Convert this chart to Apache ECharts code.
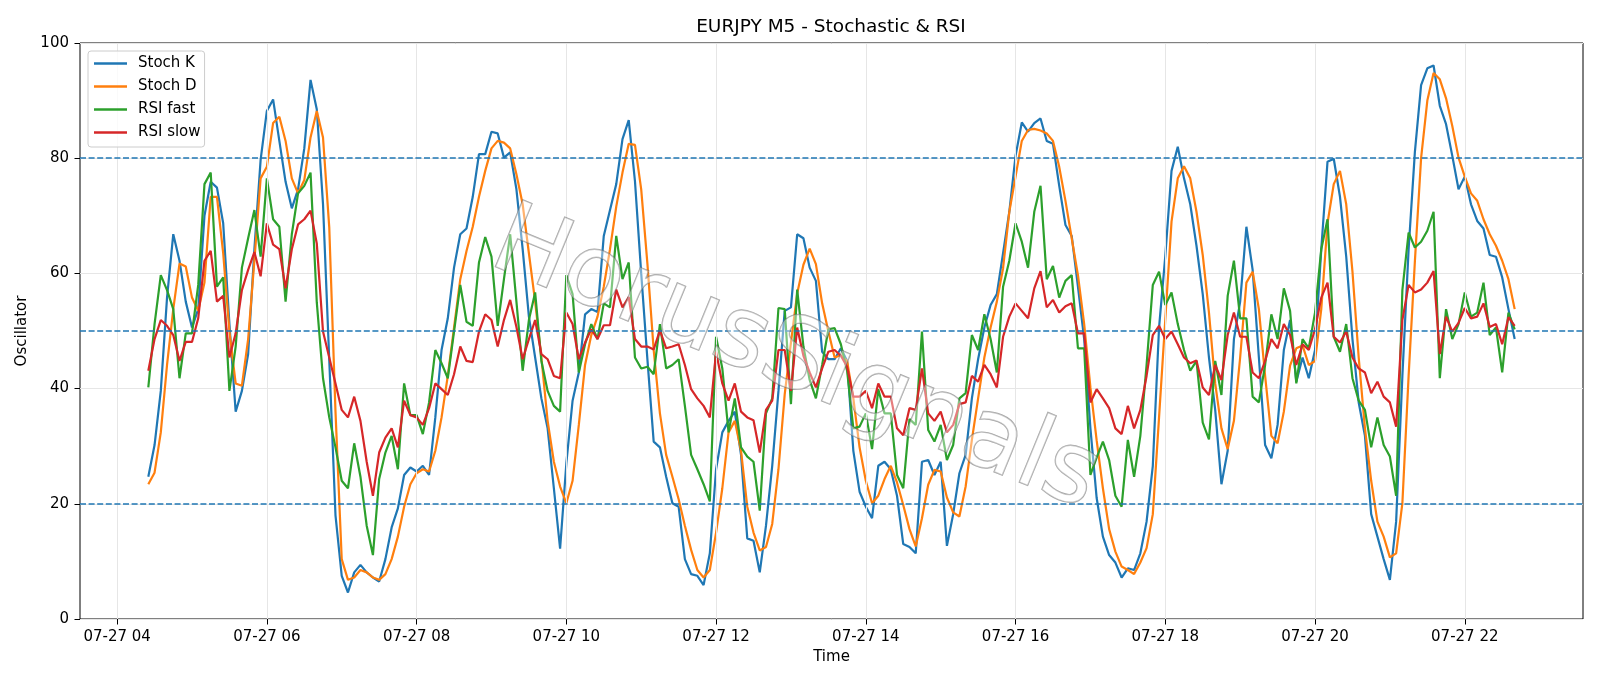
<!DOCTYPE html>
<html lang="en">
<head>
<meta charset="UTF-8">
<title>EURJPY M5 - Stochastic & RSI</title>
<style>
  html, body { margin: 0; padding: 0; background: #fff; }
  #main { width: 1600px; height: 686px; }
</style>
</head>
<body>
<div id="main"></div>
<script src="https://cdn.jsdelivr.net/npm/echarts@6/dist/echarts.min.js"></script>
<script>
// M5 bars on 07-27, first bar 04:25, last bar 22:40 (hours of day on the x axis)
var startHour = 4 + 25 / 60;
var stepHour = 5 / 60;
var tickHours = [4, 6, 8, 10, 12, 14, 16, 18, 20, 22];
var levels = [20, 50, 80];

var stochK = [
  24.7, 30.2, 39.6, 55.8, 66.8, 62.2, 55.1, 50.6, 53.8, 70.0,
  75.9, 74.9, 68.7, 51.2, 36.0, 39.6, 46.0, 64.2, 79.7, 88.2,
  90.2, 83.0, 75.9, 71.3, 74.6, 81.7, 93.6, 88.5, 72.0, 45.0,
  18.0, 7.5, 4.6, 8.1, 9.4, 8.1, 7.2, 6.5, 10.4, 15.9,
  19.2, 25.0, 26.3, 25.6, 26.6, 25.0, 35.0, 46.7, 52.2, 61.0,
  66.8, 67.8, 73.3, 80.7, 80.7, 84.6, 84.3, 80.1, 81.0, 74.6,
  64.2, 52.5, 45.4, 38.3, 33.1, 22.7, 12.2, 27.0, 37.9, 42.8,
  52.9, 53.8, 53.3, 66.5, 71.0, 75.5, 83.3, 86.6, 76.0, 60.0,
  45.0, 30.8, 29.8, 24.7, 20.1, 19.5, 10.4, 7.8, 7.5, 5.9,
  11.4, 26.0, 32.4, 34.4, 36.0, 28.5, 14.0, 13.6, 8.1, 16.2,
  26.6, 39.6, 53.5, 54.1, 66.8, 66.1, 61.0, 58.7, 46.4, 45.1,
  45.1, 47.0, 44.8, 29.2, 22.1, 19.5, 17.5, 26.6, 27.3, 26.0,
  21.4, 13.0, 12.5, 11.4, 27.3, 27.6, 25.0, 27.3, 12.7, 18.2,
  25.3, 28.5, 38.3, 45.1, 50.6, 54.5, 56.4, 63.5, 70.7, 80.4,
  86.2, 84.6, 86.1, 86.9, 83.0, 82.5, 75.2, 68.4, 66.5, 57.7,
  48.6, 33.1, 21.0, 14.3, 11.1, 9.8, 7.2, 8.8, 8.5, 11.4,
  16.9, 26.6, 50.6, 63.0, 77.8, 82.0, 76.5, 72.0, 64.8, 56.4,
  45.4, 36.3, 23.4, 29.2, 48.6, 55.1, 68.1, 60.6, 45.4, 30.2,
  27.9, 33.7, 46.7, 51.9, 41.2, 45.4, 41.8, 46.7, 64.2, 79.4,
  79.9, 73.3, 62.9, 48.6, 37.6, 31.8, 18.2, 14.3, 10.4, 6.8,
  16.9, 42.2, 64.2, 81.0, 92.7, 95.6, 96.1, 89.1, 85.9, 80.4,
  74.6, 76.8, 72.0, 69.1, 67.8, 63.2, 62.9, 59.3, 53.8, 48.6
];

var stochD = [
  23.4, 25.4, 32.4, 44.1, 53.8, 61.7, 61.2, 55.8, 53.5, 58.4,
  73.3, 73.3, 63.5, 49.9, 40.9, 40.5, 48.6, 62.2, 76.5, 78.5,
  86.1, 87.2, 83.0, 76.5, 73.9, 76.2, 83.6, 88.2, 83.6, 68.0,
  36.0, 10.4, 6.8, 7.2, 8.5, 8.1, 7.2, 6.8, 7.8, 10.4,
  14.3, 19.5, 23.4, 25.3, 26.0, 25.6, 29.2, 35.0, 42.2, 50.6,
  59.0, 63.9, 68.1, 73.3, 77.8, 81.7, 83.0, 82.7, 81.7, 77.2,
  72.0, 63.5, 55.1, 45.4, 34.4, 27.3, 23.0, 20.1, 24.0, 33.7,
  44.1, 49.3, 52.5, 57.7, 64.2, 71.6, 77.5, 82.5, 82.3, 74.6,
  61.6, 46.7, 35.7, 28.5, 24.7, 20.8, 16.2, 12.0, 8.5, 7.2,
  8.5, 15.0, 22.7, 32.4, 34.4, 29.2, 19.5, 15.0, 11.9, 12.5,
  16.5, 26.0, 39.0, 48.0, 56.5, 61.5, 64.3, 61.6, 54.8, 49.9,
  45.4, 45.8, 44.8, 38.3, 29.8, 24.0, 20.1, 21.4, 24.3, 26.6,
  23.7, 19.8, 15.6, 12.6, 17.5, 23.3, 25.9, 25.6, 21.1, 18.5,
  17.8, 23.0, 31.1, 38.3, 45.4, 50.6, 55.1, 60.9, 70.7, 76.8,
  83.0, 84.9, 85.1, 84.8, 84.3, 83.0, 78.5, 72.6, 66.1, 59.7,
  51.2, 40.2, 31.0, 22.7, 15.6, 11.7, 9.1, 8.5, 7.8, 9.8,
  12.3, 18.2, 35.0, 52.0, 69.0, 76.5, 78.6, 76.5, 70.7, 63.2,
  53.2, 40.9, 33.1, 29.5, 34.4, 45.4, 58.4, 60.3, 53.8, 42.2,
  31.8, 30.5, 36.0, 44.0, 47.0, 47.5, 44.1, 44.8, 53.8, 68.7,
  75.5, 77.8, 72.0, 60.3, 45.4, 33.1, 24.0, 16.9, 14.3, 10.7,
  11.4, 20.1, 42.2, 62.0, 80.0, 90.0, 94.8, 93.7, 90.4, 85.6,
  80.1, 76.8, 73.9, 72.6, 69.4, 66.8, 64.8, 62.2, 59.0, 53.8
];

var rsiFast = [
  40.2, 51.2, 59.7, 57.1, 53.8, 41.8, 49.6, 49.6, 58.0, 75.5,
  77.5, 57.7, 59.3, 39.6, 47.3, 61.0, 66.1, 71.0, 62.9, 76.5,
  69.4, 68.1, 55.1, 66.8, 73.9, 75.2, 77.5, 55.0, 41.8, 35.0,
  29.8, 24.0, 22.7, 30.5, 24.7, 16.2, 11.1, 24.3, 28.9, 31.8,
  26.0, 40.9, 35.4, 35.4, 32.1, 37.6, 46.7, 44.4, 41.8, 49.9,
  58.0, 51.6, 50.9, 61.9, 66.3, 62.9, 50.9, 59.0, 66.8, 55.1,
  43.1, 51.9, 56.7, 44.8, 39.6, 37.0, 36.0, 59.7, 56.4, 42.8,
  47.7, 51.2, 48.6, 54.8, 54.1, 66.5, 59.0, 61.9, 45.4, 43.5,
  43.8, 42.5, 51.2, 43.5, 44.1, 45.1, 37.0, 28.5, 26.0, 23.4,
  20.4, 49.0, 43.5, 32.4, 38.3, 29.8, 28.2, 27.3, 18.8, 35.7,
  38.3, 54.0, 53.8, 37.3, 57.2, 47.3, 41.5, 38.3, 44.1, 50.3,
  50.5, 47.7, 43.1, 33.1, 33.4, 35.7, 29.5, 39.9, 35.7, 35.7,
  25.0, 22.7, 34.7, 33.7, 49.9, 32.8, 30.8, 33.7, 27.6, 30.2,
  38.3, 39.2, 49.3, 46.7, 52.9, 48.6, 42.8, 57.7, 62.2, 68.7,
  65.5, 61.0, 70.7, 75.2, 59.0, 61.3, 55.8, 58.7, 59.7, 47.0,
  47.0, 25.0, 28.0, 30.8, 27.6, 21.4, 19.5, 31.1, 24.7, 31.8,
  44.1, 58.0, 60.3, 54.5, 56.7, 51.2, 46.7, 43.1, 44.8, 34.1,
  31.2, 44.8, 38.9, 56.1, 62.2, 52.2, 52.2, 38.6, 37.6, 44.1,
  52.9, 48.6, 57.4, 53.5, 40.9, 48.6, 47.0, 53.2, 64.2, 69.4,
  49.0, 46.4, 51.2, 41.8, 37.9, 36.3, 29.8, 35.0, 30.2, 28.2,
  21.4, 57.1, 67.1, 64.5, 65.5, 67.4, 70.7, 41.8, 53.8, 48.6,
  51.2, 56.7, 52.5, 53.2, 58.4, 49.3, 50.6, 42.8, 53.2, 50.3
];

var rsiSlow = [
  43.1, 48.6, 51.9, 50.9, 49.3, 44.8, 48.1, 48.1, 52.2, 62.2,
  63.9, 55.1, 56.1, 45.4, 49.6, 57.1, 60.6, 63.7, 59.5, 68.7,
  65.0, 64.2, 57.4, 64.2, 68.5, 69.4, 70.9, 65.2, 49.9, 45.4,
  40.9, 36.3, 35.0, 38.6, 34.4, 27.3, 21.4, 28.9, 31.5, 33.1,
  29.8, 37.9, 35.4, 35.0, 33.7, 36.6, 40.9, 39.9, 38.9, 42.5,
  47.3, 44.8, 44.6, 49.9, 52.9, 51.9, 47.3, 51.9, 55.4, 50.7,
  45.1, 48.6, 51.9, 46.0, 45.1, 42.2, 41.8, 53.2, 51.2, 45.1,
  48.0, 50.3, 48.6, 51.0, 51.0, 57.2, 54.1, 55.9, 48.6, 47.3,
  47.3, 46.8, 50.1, 47.0, 47.3, 47.7, 44.1, 39.9, 38.3, 37.0,
  35.0, 46.4, 40.9, 37.9, 40.9, 36.0, 35.0, 34.5, 28.9, 36.3,
  37.9, 46.7, 46.7, 39.6, 50.6, 45.7, 42.8, 40.2, 43.5, 46.4,
  46.7, 45.7, 43.8, 38.6, 38.6, 39.6, 36.6, 40.9, 38.6, 38.6,
  33.1, 31.9, 36.6, 36.3, 43.5, 35.7, 34.4, 36.0, 32.4, 33.7,
  37.3, 37.6, 42.2, 41.2, 44.1, 42.5, 40.2, 49.0, 52.5, 54.8,
  53.5, 52.2, 57.4, 60.4, 54.1, 55.4, 53.2, 54.3, 54.8, 49.6,
  49.6, 37.6, 39.9, 38.3, 36.6, 33.1, 32.1, 37.0, 33.1, 36.3,
  42.2, 49.3, 50.9, 48.6, 49.9, 47.7, 45.4, 44.4, 44.9, 40.2,
  38.9, 44.1, 41.5, 49.3, 53.2, 49.0, 49.0, 42.8, 41.8, 44.8,
  48.6, 47.0, 51.2, 49.3, 44.1, 47.7, 46.7, 50.3, 55.8, 58.4,
  49.0, 48.0, 49.9, 45.4, 43.5, 42.8, 39.2, 41.2, 38.6, 37.6,
  33.4, 51.9, 58.0, 56.7, 57.2, 58.4, 60.4, 46.0, 52.5, 49.9,
  51.4, 54.0, 52.2, 52.5, 54.8, 50.7, 51.2, 47.7, 52.4, 50.9
];

var FONT = 'DejaVu Sans';
var lastHour = startHour + (stochK.length - 1) * stepHour;
var pad = (lastHour - startHour) * 0.05;   // matplotlib style x margins
var xMin = startHour - pad;
var xMax = lastHour + pad;

function toPoints(arr) {
  return arr.map(function (v, i) { return [startHour + i * stepHour, v]; });
}
function two(n) { return (n < 10 ? '0' : '') + n; }

function lineSeries(name, values, color) {
  return {
    name: name,
    type: 'line',
    data: toPoints(values),
    showSymbol: false,
    symbol: 'none',
    z: 3,
    lineStyle: { color: color, width: 2.2 },
    itemStyle: { color: color }
  };
}

var chart = echarts.init(document.getElementById('main'));

var option = {
  animation: false,
  backgroundColor: '#ffffff',
  title: {
    text: 'EURJPY M5 - Stochastic & RSI',
    left: 831,
    top: 18,
    padding: 0,
    textAlign: 'center',
    textStyle: { fontFamily: FONT, fontSize: 18.5, fontWeight: 'normal', color: '#000' }
  },
  legend: {
    data: ['Stoch K', 'Stoch D', 'RSI fast', 'RSI slow'],
    orient: 'vertical',
    left: 88,
    top: 51,
    padding: [5, 4, 7, 6],
    itemGap: 8,
    icon: 'rect',
    itemWidth: 33,
    itemHeight: 2.4,
    backgroundColor: 'rgba(255,255,255,0.8)',
    borderColor: '#cccccc',
    borderWidth: 1,
    borderRadius: 3,
    textStyle: { fontFamily: FONT, fontSize: 15, color: '#000', padding: [0, 0, 0, 6], lineHeight: 14 },
    z: 20
  },
  grid: {
    left: 80, right: 17, top: 43, bottom: 67,
    show: true,
    borderColor: '#000',
    borderWidth: 1,
    backgroundColor: 'transparent'
  },
  xAxis: {
    type: 'value',
    min: xMin,
    max: xMax,
    name: 'Time',
    nameLocation: 'middle',
    nameGap: 30,
    nameTextStyle: { fontFamily: FONT, fontSize: 15, color: '#000' },
    axisLine: { show: false },
    axisTick: { show: true, customValues: tickHours, length: 5.5, lineStyle: { color: '#000', width: 1 } },
    axisLabel: {
      customValues: tickHours,
      margin: 11,
      fontFamily: FONT, fontSize: 15, color: '#000',
      formatter: function (v) { return '07-27 ' + two(Math.round(v)); }
    },
    splitLine: { show: false }
  },
  yAxis: {
    type: 'value',
    min: 0,
    max: 100,
    interval: 20,
    name: 'Oscillator',
    nameLocation: 'middle',
    nameGap: 43,
    nameRotate: 90,
    nameTextStyle: { fontFamily: FONT, fontSize: 15, color: '#000' },
    axisLine: { show: false },
    axisTick: { show: true, length: 5.5, lineStyle: { color: '#000', width: 1 } },
    axisLabel: { margin: 11, fontFamily: FONT, fontSize: 15, color: '#000' },
    splitLine: { show: true, lineStyle: { color: '#e6e6e6', width: 1 } }
  },
  graphic: [{
    type: 'text',
    x: 795,
    y: 362,
    rotation: -0.39,
    z: 50,
    silent: true,
    style: {
      text: 'HorusSignals',
      fontSize: 99,
      fontFamily: FONT,
      fill: 'rgba(255,255,255,0.4)',
      stroke: 'rgba(105,105,105,0.6)',
      lineWidth: 1.4,
      align: 'center',
      verticalAlign: 'middle',
      textAlign: 'center',
      textVerticalAlign: 'middle'
    }
  }],
  series: [
    {
      name: 'grid-x',
      type: 'line',
      data: [],
      z: 1,
      silent: true,
      markLine: {
        silent: true,
        symbol: ['none', 'none'],
        label: { show: false },
        lineStyle: { color: '#e6e6e6', width: 1, type: 'solid' },
        data: tickHours.map(function (h) { return { xAxis: h }; })
      }
    },
    lineSeries('Stoch K', stochK, '#1f77b4'),
    lineSeries('Stoch D', stochD, '#ff7f0e'),
    lineSeries('RSI fast', rsiFast, '#2ca02c'),
    lineSeries('RSI slow', rsiSlow, '#d62728'),
    {
      name: 'levels',
      type: 'line',
      data: [],
      z: 4,
      silent: true,
      markLine: {
        silent: true,
        symbol: ['none', 'none'],
        label: { show: false },
        lineStyle: { color: '#1f77b4', width: 1.5, type: [6, 2.6] },
        data: levels.map(function (v) { return { yAxis: v }; })
      }
    }
  ]
};

chart.setOption(option);
</script>
</body>
</html>
